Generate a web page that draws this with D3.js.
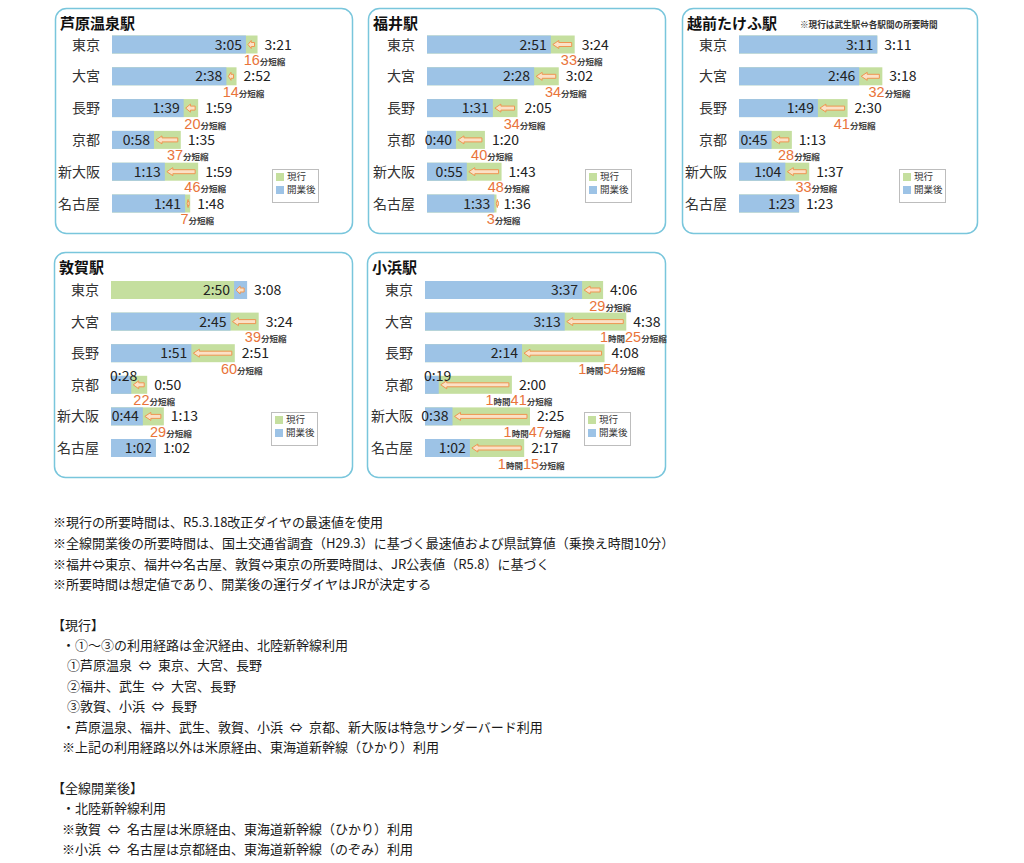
<!DOCTYPE html>
<html><head><meta charset="utf-8">
<script src="https://cdn.jsdelivr.net/npm/d3@7"></script>
<style>
html,body{margin:0;padding:0;background:#fff;}
svg{display:block;}
text{font-family:"Noto Sans CJK JP","Noto Sans CJK SC",sans-serif;}
</style></head>
<body><svg id="c" width="1024" height="863"></svg>
<script>
// ---- data ----
const stations = ["芦原温泉駅","福井駅","越前たけふ駅","敦賀駅","小浜駅"];
const destinations = ["東京","大宮","長野","京都","新大阪","名古屋"];
// 現行 (current) times
const currentAwara   = ["3:21","2:52","1:59","1:35","1:59","1:48"];
const currentFukui   = ["3:24","3:02","2:05","1:20","1:43","1:36"];
const currentTakefu  = ["3:11","3:18","2:30","1:13","1:37","1:23"];
const currentTsuruga = ["3:08","3:24","2:51","0:50","1:13","1:02"];
const currentObama   = ["4:06","4:38","4:08","2:00","2:25","2:17"];
// 開業後 (after opening) times
const afterAwara   = ["3:05","2:38","1:39","0:58","1:13","1:41"];
const afterFukui   = ["2:51","2:28","1:31","0:40","0:55","1:33"];
const afterTakefu  = ["3:11","2:46","1:49","0:45","1:04","1:23"];
const afterTsuruga = ["2:50","2:45","1:51","0:28","0:44","1:02"];
const afterObama   = ["3:37","3:13","2:14","0:19","0:38","1:02"];
// 短縮 (reduction) labels as printed: [hours or null, minutes]
const cutAwara   = [[null,16],[null,14],[null,20],[null,37],[null,46],[null,7]];
const cutFukui   = [[null,33],[null,34],[null,34],[null,40],[null,48],[null,3]];
const cutTakefu  = [null,[null,32],[null,41],[null,28],[null,33],null];
const cutTsuruga = [null,[null,39],[null,60],[null,22],[null,29],null];
const cutObama   = [[null,29],[1,25],[1,54],[1,41],[1,47],[1,15]];
// 敦賀⇔東京 is drawn with the colours exchanged in the original
const swapTsuruga = [true,false,false,false,false,false];
const legendLabels = ["現行","開業後"];
const takefuNote = "※現行は武生駅⇔各駅間の所要時間";
const notes = [
 "※現行の所要時間は、R5.3.18改正ダイヤの最速値を使用",
 "※全線開業後の所要時間は、国土交通省調査（H29.3）に基づく最速値および県試算値（乗換え時間10分）",
 "※福井⇔東京、福井⇔名古屋、敦賀⇔東京の所要時間は、JR公表値（R5.8）に基づく",
 "※所要時間は想定値であり、開業後の運行ダイヤはJRが決定する",
 "【現行】",
 "・①～③の利用経路は金沢経由、北陸新幹線利用",
 "①芦原温泉\u2002⇔\u2002東京、大宮、長野",
 "②福井、武生\u2002⇔\u2002大宮、長野",
 "③敦賀、小浜\u2002⇔\u2002長野",
 "・芦原温泉、福井、武生、敦賀、小浜\u2002⇔\u2002京都、新大阪は特急サンダーバード利用",
 "※上記の利用経路以外は米原経由、東海道新幹線（ひかり）利用",
 "【全線開業後】",
 "・北陸新幹線利用",
 "※敦賀\u2002⇔\u2002名古屋は米原経由、東海道新幹線（ひかり）利用",
 "※小浜\u2002⇔\u2002名古屋は京都経由、東海道新幹線（のぞみ）利用"
];

const currentAll = [currentAwara,currentFukui,currentTakefu,currentTsuruga,currentObama];
const afterAll = [afterAwara,afterFukui,afterTakefu,afterTsuruga,afterObama];
const cutAll = [cutAwara,cutFukui,cutTakefu,cutTsuruga,cutObama];
const swapAll = [null,null,null,swapTsuruga,null];

// ---- layout ----
const layout = [
 {x:55, y:8,   w:297, h:225, bx:112},
 {x:368,y:8,   w:297, h:225, bx:427},
 {x:682,y:8,   w:295, h:225, bx:739},
 {x:54, y:252, w:298, h:225, bx:111},
 {x:367,y:252, w:298, h:225, bx:425}
];
const noteX = [53,53,53,53,52,62,67,67,67,62,62,52,62,62,62];
const noteY = [522,543,564,584,625,645,665,686,706,727,747,788,808,829,849];

const BLUE="#9dc3e6", GREEN="#c5df9f", ORANGE="#e9743a", AR="#ef9550";
const toMin = s => { const [h,m]=s.split(":").map(Number); return h*60+m; };
const x = d3.scaleLinear().domain([0,300]).range([0,217.2]);
const svg = d3.select("#c");

stations.forEach((st,pi)=>{
  const L = layout[pi];
  const g = svg.append("g");
  g.append("rect").attr("x",L.x+0.5).attr("y",L.y+0.5).attr("width",L.w).attr("height",L.h)
    .attr("rx",11).attr("fill","#fff").attr("stroke","#79c6dc").attr("stroke-width",1.5);
  g.append("text").attr("x",L.x+5).attr("y",L.y+20.5).attr("font-size",15).attr("font-weight",700)
    .attr("fill","#111").text(st);
  if (pi===2) {
    g.append("text").attr("x",800).attr("y",L.y+19.5).attr("font-size",8.6).attr("font-weight",700)
      .attr("fill","#333").text(takefuNote);
  }
  const y = d3.scalePoint().domain(destinations).range(pi<3?[L.y+36.5,L.y+195.5]:[L.y+38,L.y+196]);
  const bh = 18;
  destinations.forEach((dst,i)=>{
    const cy = y(dst);
    const cur = toMin(currentAll[pi][i]), aft = toMin(afterAll[pi][i]);
    const swap = swapAll[pi] && swapAll[pi][i];
    const x0 = L.bx;
    g.append("text").attr("x",x0-12).attr("y",cy).attr("dy","0.36em").attr("text-anchor","end")
      .attr("font-size",14).attr("fill","#333").text(dst);
    if (!swap) {
      g.append("rect").attr("x",x0).attr("y",cy-bh/2).attr("width",x(cur)).attr("height",bh).attr("fill",GREEN);
      g.append("rect").attr("x",x0).attr("y",cy-bh/2).attr("width",x(aft)).attr("height",bh).attr("fill",BLUE);
    } else {
      g.append("rect").attr("x",x0).attr("y",cy-bh/2).attr("width",x(cur)).attr("height",bh).attr("fill",BLUE);
      g.append("rect").attr("x",x0).attr("y",cy-bh/2).attr("width",x(aft)).attr("height",bh).attr("fill",GREEN);
    }
    const lo = x0 + x(Math.min(cur,aft)), hi = x0 + x(Math.max(cur,aft));
    if (hi - lo > 1) {
      const tip = lo + 2, tail = Math.max(tip+2, hi - 3);
      const hl = Math.min(6, (tail-tip)*0.5);
      g.append("path").attr("d",
        `M${tip},${cy} L${tip+hl},${cy-4} L${tip+hl},${cy-2} L${tail},${cy-2} L${tail},${cy+2} L${tip+hl},${cy+2} L${tip+hl},${cy+4} Z`)
        .attr("fill","#fbe1c6").attr("stroke",AR).attr("stroke-width",1);
    }
    if (aft < 30) {
      g.append("text").attr("x",x0-1).attr("y",cy-bh/2+5).attr("font-size",14).attr("fill","#222").text(afterAll[pi][i]);
    } else {
      g.append("text").attr("x",x0 + x(aft) - 4).attr("y",cy).attr("dy","0.36em").attr("text-anchor","end")
        .attr("font-size",14).attr("fill","#222").text(afterAll[pi][i]);
    }
    g.append("text").attr("x",hi + 7).attr("y",cy).attr("dy","0.36em")
      .attr("font-size",14).attr("fill","#222").text(currentAll[pi][i]);
    const c = cutAll[pi][i];
    if (c != null) {
      const t = g.append("text").attr("x",x0 + x(cur) + 7).attr("y",cy+20.5).attr("text-anchor","middle");
      const big = s => t.append("tspan").attr("font-family","'Liberation Sans Narrow','Liberation Sans',sans-serif")
          .attr("font-size",14.5).attr("fill",ORANGE).text(s);
      const small = s => t.append("tspan").attr("font-size",8.5).attr("font-weight",700).attr("fill","#444").text(s);
      if (c[0] != null) { big(String(c[0])); small("時間"); }
      big(String(c[1])); small("分短縮");
    }
  });
  const lx = L.x + 217, ly = L.y + (pi<3?161:160);
  const lg = g.append("g");
  lg.append("rect").attr("x",lx+0.5).attr("y",ly+0.5).attr("width",46).attr("height",33)
    .attr("fill","#fff").attr("stroke","#bdbdbd");
  [GREEN,BLUE].forEach((col,k)=>{
    lg.append("rect").attr("x",lx+4).attr("y",ly+4+k*13).attr("width",8).attr("height",8).attr("fill",col);
    lg.append("text").attr("x",lx+15).attr("y",ly+8+k*13).attr("dy","0.36em").attr("font-size",9.5)
      .attr("fill","#333").text(legendLabels[k]);
  });
});

svg.append("g").selectAll("text").data(notes).join("text")
  .attr("x",(d,i)=>noteX[i]).attr("y",(d,i)=>noteY[i]).attr("dy","0.36em")
  .attr("font-size",13).attr("fill","#1a1a1a").style("white-space","pre").text(d=>d);
</script></body></html>
